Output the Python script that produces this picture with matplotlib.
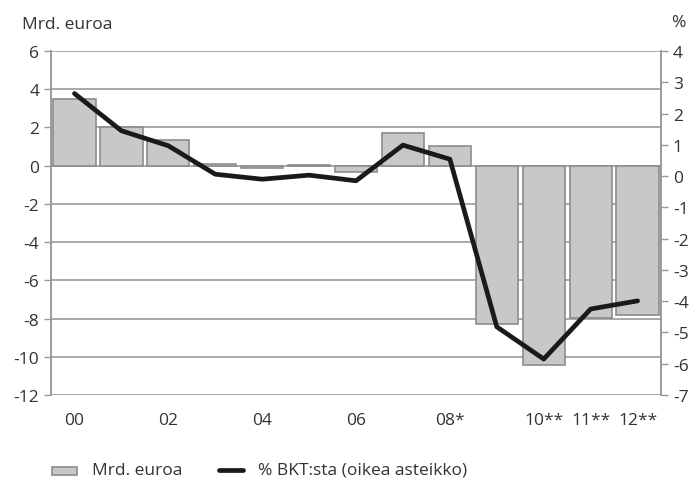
import numpy as np
import matplotlib.pyplot as plt
from matplotlib.patches import Rectangle
from matplotlib.lines import Line2D

plt.rcParams["font.family"] = ["Open Sans", "DejaVu Sans"]
plt.rcParams["axes.unicode_minus"] = False

years = list(range(13))
tick_pos = [0, 2, 4, 6, 8, 10, 11, 12]
tick_labels = ["00", "02", "04", "06", "08*", "10**", "11**", "12**"]
bars_mrd = [3.5, 2.03, 1.33, 0.1, -0.13, 0.06, -0.33, 1.73, 1.02, -8.3, -10.45, -7.97, -7.8]
pct_gdp = [2.64, 1.45, 0.97, 0.06, -0.1, 0.03, -0.15, 0.99, 0.54, -4.82, -5.85, -4.25, -3.99]
legend_labels = ["Mrd. euroa", "% BKT:sta (oikea asteikko)"]

text_c = "#333333"
grid_c = "#9a9a9a"
bar_c = "#c8c8c8"
bar_edge = "#8c8c8c"
line_c = "#1a1a1a"

W, H = 697, 481
fig = plt.figure(figsize=(W / 100, H / 100), dpi=100)
ax = fig.add_axes([0.0732, 0.1767, 0.8752, 0.7152])
ax2 = ax.twinx()

ax.bar(years, bars_mrd, width=0.9, color=bar_c, edgecolor=bar_edge, linewidth=1.2, zorder=2)
ax.set_ylim(-12, 6)
ax.set_yticks(np.arange(-12, 7, 2))
ax.set_xlim(-0.5, 12.5)
ax.set_xticks(tick_pos)
ax.set_xticklabels(tick_labels)
ax.yaxis.grid(True, color=grid_c, linewidth=1.2, zorder=0)
ax.set_axisbelow(True)

ax2.plot(years, pct_gdp, color=line_c, linewidth=3.4, solid_capstyle="round", zorder=3)
ax2.set_ylim(-7, 4)
ax2.set_yticks(np.arange(-7, 5, 1))

for a in (ax, ax2):
    for s in ("top", "bottom"):
        a.spines[s].set_visible(False)
    a.spines["left"].set_color(grid_c)
    a.spines["right"].set_color(grid_c)
    a.spines["left"].set_linewidth(1.2)
    a.spines["right"].set_linewidth(1.2)
    a.tick_params(colors=text_c, labelsize=12.5, color=grid_c, length=5, width=1)

ax.tick_params(axis="x", length=0, pad=12)

fig.text(0.032, 0.947, "Mrd. euroa", fontsize=12.5, color=text_c, va="center")
fig.text(0.973, 0.952, "%", fontsize=12.5, color=text_c, va="center", ha="center")

# legend drawn by hand at the bottom
ly = 1 - 471 / H
fig.add_artist(Rectangle((52 / W, 1 - 476 / H), 25 / W, 8 / H, transform=fig.transFigure,
                         facecolor=bar_c, edgecolor=bar_edge, linewidth=1.2))
fig.text(92 / W, ly, legend_labels[0], fontsize=12.5, color=text_c, va="center")
fig.add_artist(Line2D([219 / W, 243 / W], [ly, ly], transform=fig.transFigure,
                      color=line_c, linewidth=3.4, solid_capstyle="round"))
fig.text(258 / W, ly, legend_labels[1], fontsize=12.5, color=text_c, va="center")

fig.savefig("out.png", dpi=100)
